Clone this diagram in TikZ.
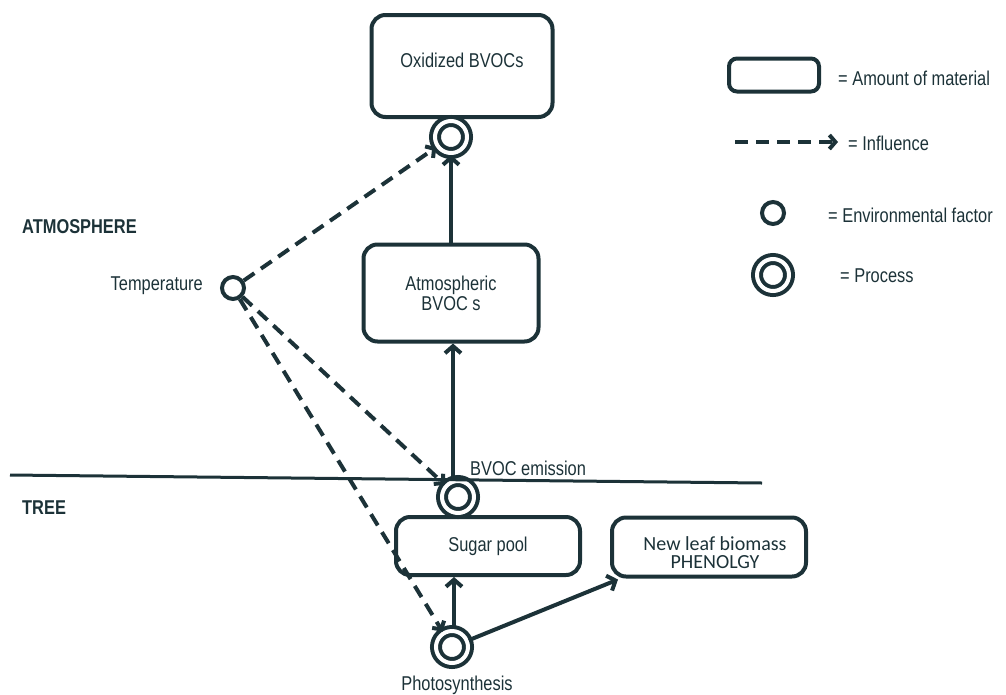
\documentclass[tikz,border=0pt]{standalone}
\usepackage{fontspec}
\setmainfont[FakeStretch=0.82]{Liberation Sans}
\newfontfamily\calib{Carlito}
\usetikzlibrary{arrows.meta}
\definecolor{ink}{RGB}{28,50,56}
\begin{document}
\begin{tikzpicture}[x=1pt,y=-1pt,
  every node/.style={text=ink},
  lbl/.style={font=\fontsize{20}{22}\selectfont, inner sep=0pt},
  stock/.style={draw=ink, line width=4pt, rounded corners=14pt, inner sep=0pt,
    font=\fontsize{20}{22}\selectfont, align=center},
  process/.style={circle, draw=ink, double, double distance=4pt, line width=4pt,
    minimum size=32pt, inner sep=0pt},
  factor/.style={circle, draw=ink, line width=4pt, minimum size=22pt, inner sep=0pt},
  flow/.style={draw=ink, line width=4pt, -{Straight Barb[length=7pt,width=16pt]}},
  influence/.style={draw=ink, line width=4pt, dash pattern=on 13pt off 8pt,
    -{Straight Barb[length=6pt,width=14pt]}}
]
\useasboundingbox (0,0) rectangle (1006,694);

% stocks
\node[stock, minimum width=181pt, minimum height=102pt] (oxid) at (462,66) {};
\node[lbl] at (462,60) {Oxidized BVOCs};
\node[stock, minimum width=175pt, minimum height=97pt] (atmos) at (451,293)
  {Atmospheric\\[-2pt]BVOC s};
\node[stock, minimum width=184pt, minimum height=58pt] (sugar) at (488,546) {Sugar pool};
\node[stock, minimum width=194pt, minimum height=59pt] (leaf) at (709,547) {};
\node[inner sep=0pt, align=center, font=\calib\fontsize{20}{18}\selectfont] at (715,553)
  {New leaf biomass\\PHENOLGY};

% processes and factors
\node[process] (oxproc) at (451,137) {};
\node[process] (emis) at (458,497) {};
\node[process] (photo) at (452,647) {};
\node[factor] (temp) at (233,288) {};

% atmosphere / tree boundary
\coordinate (bl) at (10,475);
\coordinate (br) at (762,483);
\draw[ink, line width=3pt] (bl) -- (br);

% labels
\node[lbl, font=\fontsize{20}{22}\selectfont\bfseries, anchor=west] at (22,227) {ATMOSPHERE};
\node[lbl, font=\fontsize{20}{22}\selectfont\bfseries, anchor=west] at (22,508) {TREE};
\node[lbl, anchor=east] at (203,286) {Temperature};
\node[lbl, anchor=west] at (470,468) {BVOC emission};
\node[lbl] at (457,685) {Photosynthesis};

% material flows
\draw[flow] (oxproc.south |- atmos.north) -- (oxproc.south);
\draw[flow] ([xshift=-5pt,yshift=1pt]emis.north) -- ([xshift=-5pt]emis.north |- atmos.south);
\draw[flow] ([xshift=2pt]photo.north) -- ([xshift=2pt]photo.north |- sugar.south);
\draw[flow] (photo) -- ([xshift=8pt,yshift=-1pt]leaf.south west);

% influences
\draw[influence] (temp) -- (oxproc);
\draw[influence] (temp) -- (emis);
\draw[influence] (temp) -- (photo);

% legend
\node[stock, rounded corners=8pt, minimum width=90pt, minimum height=33pt] (lgbox) at (774,75) {};
\node[lbl, anchor=west] at (838,78) {= Amount of material};
\coordinate (lga) at (735,142);
\coordinate (lgb) at (838,142);
\draw[influence] (lga) -- (lgb);
\node[lbl, anchor=west] at (848,143) {= Influence};
\node[factor] (lgfac) at (773,213) {};
\node[lbl, anchor=west] at (828,215) {= Environmental factor};
\node[process] (lgproc) at (773,275) {};
\node[lbl, anchor=west] at (840,276) {= Process};
\end{tikzpicture}
\end{document}
